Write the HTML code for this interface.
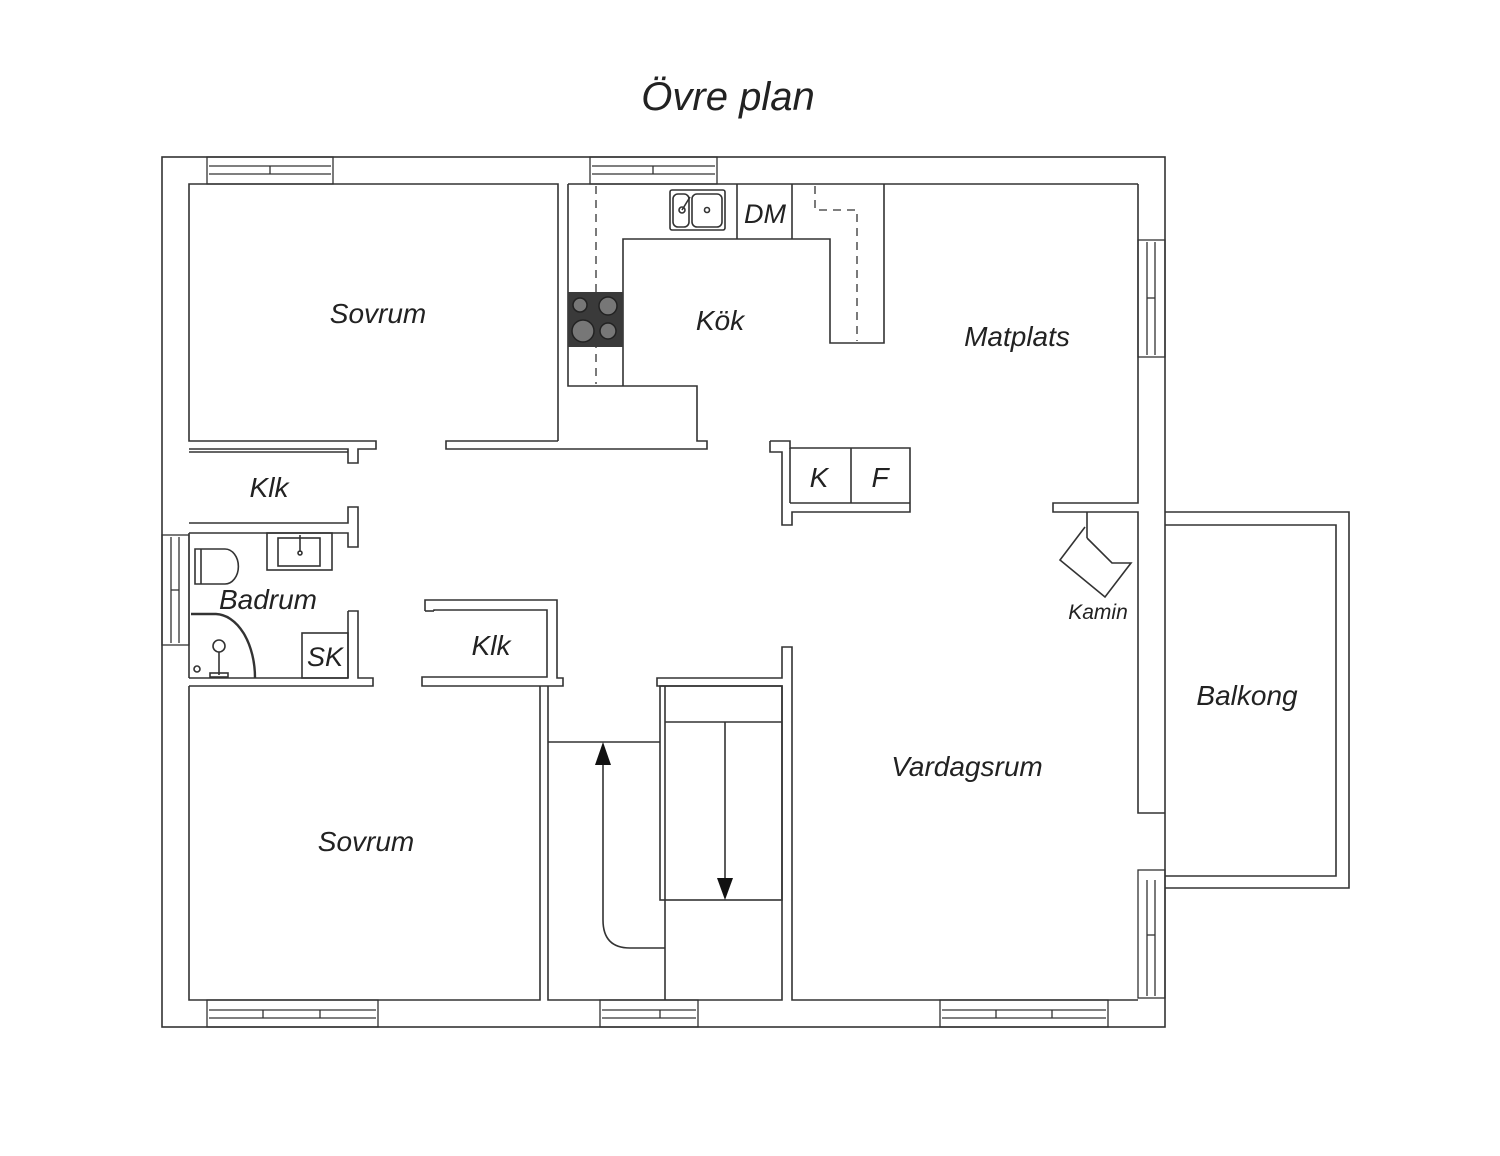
<!DOCTYPE html>
<html><head><meta charset="utf-8"><style>
html,body{margin:0;padding:0;background:#fff;}
svg{display:block;}
text{font-family:"Liberation Sans",sans-serif;font-style:italic;fill:#222;}
</style></head><body>
<svg width="1500" height="1156" viewBox="0 0 1500 1156" xmlns="http://www.w3.org/2000/svg">
<g fill="none" stroke="#333" stroke-width="1.6">
<!-- outer wall -->
<rect x="162" y="157" width="1003" height="870" fill="#fff"/>
<!-- windows -->
<g stroke-width="1.3">
<rect x="207" y="157" width="126" height="27"/><line x1="209" y1="166" x2="331" y2="166"/><line x1="209" y1="174" x2="331" y2="174"/><line x1="270" y1="166" x2="270" y2="174"/>
<rect x="590" y="157" width="127" height="27"/><line x1="592" y1="166" x2="715" y2="166"/><line x1="592" y1="174" x2="715" y2="174"/><line x1="653" y1="166" x2="653" y2="174"/>
<rect x="207" y="1000" width="171" height="27"/><line x1="209" y1="1010" x2="376" y2="1010"/><line x1="209" y1="1018" x2="376" y2="1018"/><line x1="263" y1="1010" x2="263" y2="1018"/><line x1="320" y1="1010" x2="320" y2="1018"/>
<rect x="600" y="1000" width="98" height="27"/><line x1="602" y1="1010" x2="696" y2="1010"/><line x1="602" y1="1018" x2="696" y2="1018"/><line x1="660" y1="1010" x2="660" y2="1018"/>
<rect x="940" y="1000" width="168" height="27"/><line x1="942" y1="1010" x2="1106" y2="1010"/><line x1="942" y1="1018" x2="1106" y2="1018"/><line x1="996" y1="1010" x2="996" y2="1018"/><line x1="1052" y1="1010" x2="1052" y2="1018"/>
<rect x="1138" y="240" width="27" height="117"/><line x1="1147" y1="242" x2="1147" y2="355"/><line x1="1155" y1="242" x2="1155" y2="355"/><line x1="1147" y1="298" x2="1155" y2="298"/>
<rect x="1138" y="870" width="27" height="128"/><line x1="1147" y1="880" x2="1147" y2="996"/><line x1="1155" y1="880" x2="1155" y2="996"/><line x1="1147" y1="935" x2="1155" y2="935"/>
<rect x="162" y="535" width="27" height="110"/><line x1="171" y1="537" x2="171" y2="643"/><line x1="179" y1="537" x2="179" y2="643"/><line x1="171" y1="590" x2="179" y2="590"/>
</g>
<!-- balcony -->
<polyline points="1165,512 1349,512 1349,888 1165,888"/>
<polyline points="1165,525 1336,525 1336,876 1165,876"/>
<!-- upper sovrum -->
<polyline points="558,441 558,184 189,184 189,441 376,441 376,449 358,449 358,463 348,463 348,449 189,449"/>
<!-- klk upper -->
<polyline points="189,452 348,452"/>
<polyline points="189,523 348,523 348,507 358,507 358,547 348,547 348,533 189,533"/>
<!-- badrum -->
<line x1="189" y1="533" x2="189" y2="678"/>
<polyline points="348,611 358,611 358,678 373,678 373,686 189,686"/>
<line x1="189" y1="678" x2="348" y2="678"/><line x1="348" y1="611" x2="348" y2="678"/>
<rect x="267" y="533" width="65" height="37"/><rect x="278" y="538" width="42" height="28"/>
<line x1="300" y1="535" x2="300" y2="552"/><circle cx="300" cy="553" r="2"/>
<path d="M195,549 H225 A13,17 0 0 1 225,584 H195 Z"/>
<line x1="201" y1="549" x2="201" y2="584"/>
<rect x="302" y="633" width="46" height="45"/>
<path d="M191,614 H216 A40,64 0 0 1 255,678" stroke-width="2.4"/>
<circle cx="219" cy="646" r="6"/><line x1="219" y1="652" x2="219" y2="675"/>
<circle cx="197" cy="669" r="3"/>
<rect x="210" y="673" width="18" height="4"/>
<!-- lower klk -->
<polyline points="425,611 425,600 557,600 557,678 563,678 563,686 422,686 422,677 434,677"/>
<polyline points="434,611 434,610 547,610 547,677 434,677"/>
<line x1="425" y1="611" x2="434" y2="611"/>
<!-- lower sovrum -->
<polyline points="189,686 189,1000 540,1000 540,686"/>
<polyline points="548,686 548,1000 782,1000 782,686 657,686 657,678 782,678 782,647 792,647 792,1000 1138,1000"/>
<!-- stairs -->
<rect x="660" y="686" width="122" height="214"/>
<line x1="665" y1="686" x2="665" y2="1000"/>
<line x1="665" y1="722" x2="782" y2="722"/>
<line x1="725" y1="722" x2="725" y2="880"/>
<line x1="548" y1="742" x2="660" y2="742"/>
<path d="M603,765 V920 Q603,948 630,948 H665"/>
<!-- kitchen -->
<polyline points="568,184 568,386 697,386 697,441 707,441 707,449 446,449 446,441 558,441"/>
<polyline points="623,386 623,239 830,239 830,343 884,343 884,184"/>
<line x1="568" y1="184" x2="1138" y2="184"/>
<line x1="737" y1="184" x2="737" y2="239"/><line x1="792" y1="184" x2="792" y2="239"/>
<rect x="670" y="190" width="55" height="40" rx="2"/>
<rect x="673" y="194" width="16" height="33" rx="5"/><rect x="692" y="194" width="30" height="33" rx="5"/>
<circle cx="682" cy="210" r="3"/><circle cx="707" cy="210" r="2.5"/><line x1="682" y1="210" x2="690" y2="197"/>
<g stroke-dasharray="8,6" stroke-width="1.3">
<line x1="596" y1="186" x2="596" y2="384"/>
<polyline points="815,186 815,210 857,210 857,341"/>
</g>
<!-- K F -->
<polyline points="770,441 790,441 790,448 910,448 910,512 792,512 792,525 782,525 782,452 770,452 770,441"/>
<line x1="790" y1="448" x2="790" y2="503"/><line x1="790" y1="503" x2="910" y2="503"/>
<line x1="851" y1="448" x2="851" y2="503"/>
<!-- right wall -->
<polyline points="1138,184 1138,503 1053,503 1053,512 1138,512 1138,813 1165,813"/>
<line x1="1087" y1="512" x2="1087" y2="538"/>
<polyline points="1085,527 1060,560 1105,597 1131,563 1112,563 1087,538"/>
</g>
<rect x="568" y="292" width="55" height="55" fill="#3a3a3a"/>
<g fill="#777" stroke="#222" stroke-width="1.5">
<circle cx="580" cy="305" r="7"/><circle cx="608" cy="306" r="9"/><circle cx="583" cy="331" r="11"/><circle cx="608" cy="331" r="8"/>
</g>
<polygon points="595,765 611,765 603,742" fill="#111"/>
<polygon points="717,878 733,878 725,900" fill="#111"/>
<text x="728" y="110" font-size="40" text-anchor="middle">Övre plan</text>
<text x="378" y="323" font-size="28" text-anchor="middle">Sovrum</text>
<text x="720" y="330" font-size="28" text-anchor="middle">Kök</text>
<text x="765" y="223" font-size="27" text-anchor="middle">DM</text>
<text x="1017" y="346" font-size="28" text-anchor="middle">Matplats</text>
<text x="269" y="497" font-size="28" text-anchor="middle">Klk</text>
<text x="819" y="487" font-size="28" text-anchor="middle">K</text>
<text x="880" y="487" font-size="28" text-anchor="middle">F</text>
<text x="268" y="609" font-size="28" text-anchor="middle">Badrum</text>
<text x="325" y="666" font-size="27" text-anchor="middle">SK</text>
<text x="491" y="655" font-size="28" text-anchor="middle">Klk</text>
<text x="1098" y="619" font-size="21" text-anchor="middle">Kamin</text>
<text x="1247" y="705" font-size="28" text-anchor="middle">Balkong</text>
<text x="967" y="776" font-size="28" text-anchor="middle">Vardagsrum</text>
<text x="366" y="851" font-size="28" text-anchor="middle">Sovrum</text>
</svg>
</body></html>
